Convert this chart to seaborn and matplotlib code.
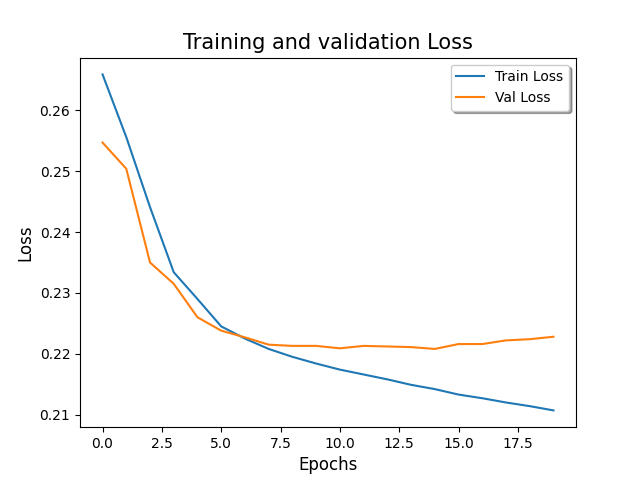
import numpy as np
import pandas as pd
import matplotlib
matplotlib.use("Agg")
import matplotlib.pyplot as plt
import seaborn as sns

# values
epochs = list(range(20))
train_loss = [0.2659, 0.2556, 0.2441, 0.2334, 0.2290, 0.2245, 0.2225, 0.2208,
              0.2195, 0.2184, 0.2174, 0.2166, 0.2158, 0.2149, 0.2142, 0.2133,
              0.2127, 0.2120, 0.2114, 0.2107]
val_loss = [0.2547, 0.2504, 0.2350, 0.2315, 0.2260, 0.2238, 0.2227, 0.2215,
            0.2213, 0.2213, 0.2209, 0.2213, 0.2212, 0.2211, 0.2208, 0.2216,
            0.2216, 0.2222, 0.2224, 0.2228]

fig, ax = plt.subplots(figsize=(6.4, 4.8), dpi=100)

sns.lineplot(x=epochs, y=train_loss, ax=ax, color='#1f77b4', label='Train Loss')
sns.lineplot(x=epochs, y=val_loss, ax=ax, color='#ff7f0e', label='Val Loss')

ax.set_title("Training and validation Loss", fontsize=15)
ax.set_xlabel("Epochs", fontsize=12)
ax.set_ylabel("Loss", fontsize=12)
ax.legend(loc='upper right', shadow=True)

plt.savefig("out.png")
